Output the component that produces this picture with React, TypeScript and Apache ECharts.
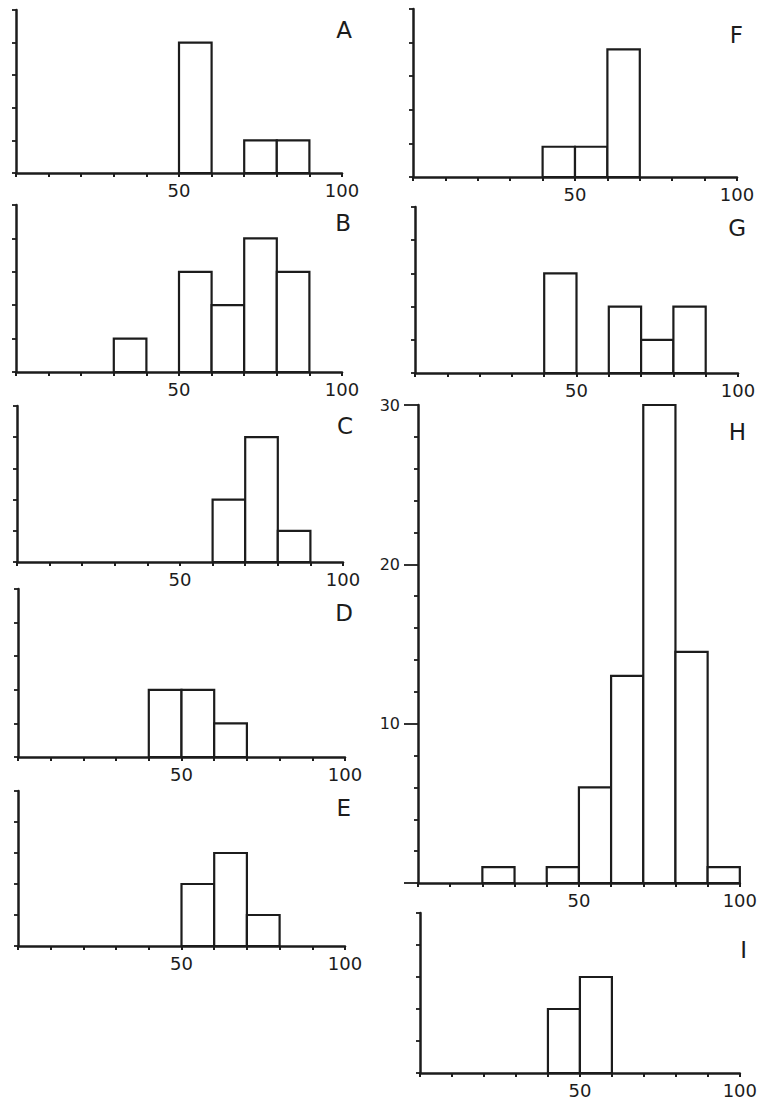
import React, { useEffect, useRef } from "react";
import * as echarts from "echarts";

const binStarts = [0, 10, 20, 30, 40, 50, 60, 70, 80, 90];
const countsA = [0, 0, 0, 0, 0, 4, 0, 1, 1, 0];
const countsB = [0, 0, 0, 1, 0, 3, 2, 4, 3, 0];
const countsC = [0, 0, 0, 0, 0, 0, 2, 4, 1, 0];
const countsD = [0, 0, 0, 0, 2, 2, 1, 0, 0, 0];
const countsE = [0, 0, 0, 0, 0, 2, 3, 1, 0, 0];
const countsF = [0, 0, 0, 0, 0.9, 0.9, 3.8, 0, 0, 0];
const countsG = [0, 0, 0, 0, 3, 0, 2, 1, 2, 0];
const countsH = [0, 0, 1, 0, 1, 6, 13, 30, 14.5, 1];
const countsI = [0, 0, 0, 0, 2, 3, 0, 0, 0, 0];
const panelNames = ["A", "B", "C", "D", "E", "F", "G", "H", "I"];
const xTickLabels = [50, 100];
const hTickLabels = [10, 20, 30];

const panelCounts = [countsA, countsB, countsC, countsD, countsE, countsF, countsG, countsH, countsI];

// layout: [left, top, width, height]
const grids = [
  [16, 10, 326, 163],
  [16, 205, 326, 167],
  [17, 406, 326, 156],
  [18, 589, 327, 168],
  [18, 791, 327, 155],
  [413, 9, 324, 168],
  [415, 207, 323, 166],
  [418, 405, 324, 478],
  [420, 913, 323, 163],
];
// letter label positions: [right x, center y]
const letterPos = [
  [352, 30],
  [351, 223],
  [353, 426],
  [353, 613],
  [351, 808],
  [743, 35],
  [746, 228],
  [746, 432],
  [747, 950],
];

const INK = "#1c1c1c";
const FONT = "DejaVu Sans";

export default function App() {
  const ref = useRef<HTMLDivElement>(null);
  useEffect(() => {
    if (!ref.current) return;
    const chart = echarts.init(ref.current, null, { renderer: "svg" });
    const grid: any[] = [];
    const xAxis: any[] = [];
    const yAxis: any[] = [];
    const series: any[] = [];
    grids.forEach((g, i) => {
      grid.push({ left: g[0], top: g[1], width: g[2], height: g[3], containLabel: false });
      xAxis.push({
        type: "value",
        gridIndex: i,
        min: 0,
        max: 100,
        interval: 10,
        splitLine: { show: false },
        axisLine: { show: true, lineStyle: { color: INK, width: 2.5 } },
        axisTick: { show: true, length: 4, lineStyle: { color: INK, width: 2 } },
        axisLabel: {
          show: true,
          margin: 8,
          color: INK,
          fontFamily: FONT,
          fontSize: 18,
          formatter: (v: number) => (xTickLabels.includes(v) ? String(v) : ""),
        },
      });
      const isH = i === 7;
      yAxis.push(
        isH
          ? {
              type: "value",
              gridIndex: i,
              min: 0,
              max: 30,
              interval: 10,
              splitLine: { show: false },
              axisLine: { show: true, lineStyle: { color: INK, width: 2.5 } },
              axisTick: { show: true, length: 14, lineStyle: { color: INK, width: 1.8 } },
              minorTick: { show: true, splitNumber: 5, length: 4, lineStyle: { color: INK, width: 1.8 } },
              axisLabel: {
                show: true,
                margin: 18,
                color: INK,
                fontFamily: FONT,
                fontSize: 16,
                formatter: (v: number) => (hTickLabels.includes(v) ? String(v) : ""),
              },
            }
          : {
              type: "value",
              gridIndex: i,
              min: 0,
              max: 5,
              interval: 1,
              splitLine: { show: false },
              axisLine: { show: true, lineStyle: { color: INK, width: 2.5 } },
              axisTick: { show: true, length: 4, lineStyle: { color: INK, width: 1.8 } },
              axisLabel: { show: false },
            }
      );
      const data = binStarts
        .map((s, k) => [s, s + 10, panelCounts[i][k]])
        .filter((d) => d[2] > 0);
      series.push({
        type: "custom",
        xAxisIndex: i,
        yAxisIndex: i,
        encode: { x: [0, 1], y: 2 },
        data,
        z: 3,
        renderItem: (params: any, api: any) => {
          const s = api.value(0);
          const e = api.value(1);
          const v = api.value(2);
          const p0 = api.coord([s, v]);
          const p1 = api.coord([e, 0]);
          return {
            type: "rect",
            shape: { x: p0[0], y: p0[1], width: p1[0] - p0[0], height: p1[1] - p0[1] },
            style: { fill: "#ffffff", stroke: INK, lineWidth: 2.2 },
          };
        },
      });
    });
    const graphic = panelNames.map((n, i) => ({
      type: "text",
      x: letterPos[i][0],
      y: letterPos[i][1],
      style: {
        text: n,
        fill: INK,
        font: `23px "${FONT}"`,
        align: "right",
        verticalAlign: "middle",
      },
    }));
    chart.setOption({
      animation: false,
      backgroundColor: "#ffffff",
      grid,
      xAxis,
      yAxis,
      series,
      graphic,
    });
    return () => chart.dispose();
  }, []);
  return (
    <div
      ref={ref}
      style={{ position: "absolute", left: 0, top: 0, width: 760, height: 1099 }}
    />
  );
}
